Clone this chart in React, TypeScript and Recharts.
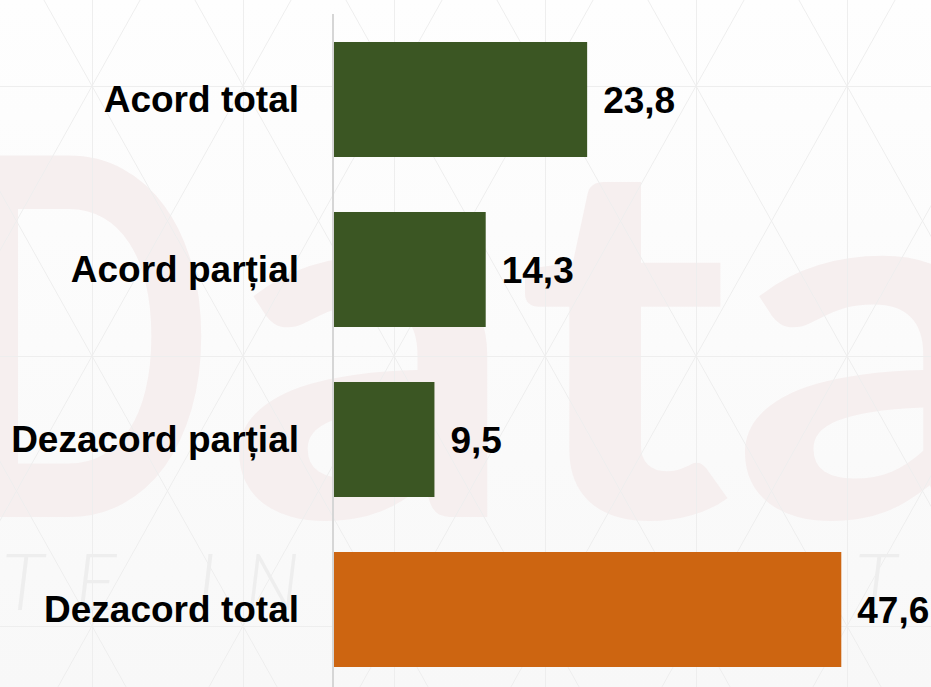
import { BarChart, Bar, XAxis, YAxis, Cell, LabelList } from 'recharts';

const categories = ['Acord total', 'Acord parțial', 'Dezacord parțial', 'Dezacord total'];
const values = [23.8, 14.3, 9.5, 47.6];
const barColors = ['#3B5623', '#3B5623', '#3B5623', '#CD6511'];

const data = categories.map((name, i) => ({ name, value: values[i] }));

const fmt = (v: any) => Number(v).toFixed(1).replace('.', ',');

const labelFont = { fontFamily: 'Arial, "Liberation Sans", sans-serif', fontWeight: 'bold' as const, fontSize: 37 };

// faint "Data" watermark and triangle lattice behind the chart
function Backdrop() {
  return (
    <svg width={931} height={687} style={{ position: 'absolute', left: 0, top: 0 }}>
      <defs>
        <linearGradient id="bg" x1="0" y1="0" x2="0" y2="1">
          <stop offset="0%" stopColor="#fefefe" />
          <stop offset="100%" stopColor="#f8f8f8" />
        </linearGradient>
        <pattern id="lattice" patternUnits="userSpaceOnUse" x={92} y={86} width={151} height={270}>
          <g stroke="#eeeeee" strokeWidth={1} fill="none">
            <line x1={0.5} y1={0} x2={0.5} y2={270} />
            <line x1={0} y1={0.5} x2={151} y2={0.5} />
            <line x1={0} y1={0} x2={151} y2={270} />
            <line x1={151} y1={0} x2={0} y2={270} />
          </g>
        </pattern>
      </defs>
      <rect width={931} height={687} fill="url(#bg)" />
      <g fontFamily="Lato, sans-serif" fontWeight="bold" fontSize={500} fill="#f6efef">
        <text x={-60} y={517} textLength={275} lengthAdjust="spacingAndGlyphs">D</text>
        <text x={225} y={517} textLength={800} lengthAdjust="spacingAndGlyphs">ata</text>
      </g>
      <rect width={931} height={687} fill="url(#lattice)" />
      <g fontFamily="Lato, sans-serif" fontWeight={300} fontStyle="italic" fontSize={78} fill="#eeeeee">
        <text x={2} y={610}>T</text>
        <text x={75} y={610}>E</text>
        <text x={197} y={610}>I</text>
        <text x={245} y={610}>N</text>
        <text x={855} y={610}>T</text>
      </g>
    </svg>
  );
}

export default function App() {
  return (
    <div style={{ position: 'absolute', left: 0, top: 0, width: 931, height: 687, overflow: 'hidden' }}>
      <Backdrop />
      <div style={{ position: 'absolute', left: 0, top: 0 }}>
        <BarChart
          layout="vertical"
          width={931}
          height={694}
          data={data}
          margin={{ top: 14, right: 0, left: 0, bottom: 0 }}
        >
          <XAxis type="number" domain={[0, 56]} hide />
          <YAxis
            type="category"
            dataKey="name"
            width={333}
            axisLine={{ stroke: '#d6d6d6', strokeWidth: 2 }}
            tickLine={false}
            tickSize={0}
            tickMargin={34}
            tick={{ ...labelFont, fill: '#000' }}
            interval={0}
          />
          <Bar dataKey="value" barSize={115} isAnimationActive={false}>
            {data.map((d, i) => (
              <Cell key={d.name} fill={barColors[i]} />
            ))}
            <LabelList dataKey="value" position="right" offset={16} formatter={fmt} style={{ ...labelFont, fill: '#000' }} />
          </Bar>
        </BarChart>
      </div>
    </div>
  );
}
